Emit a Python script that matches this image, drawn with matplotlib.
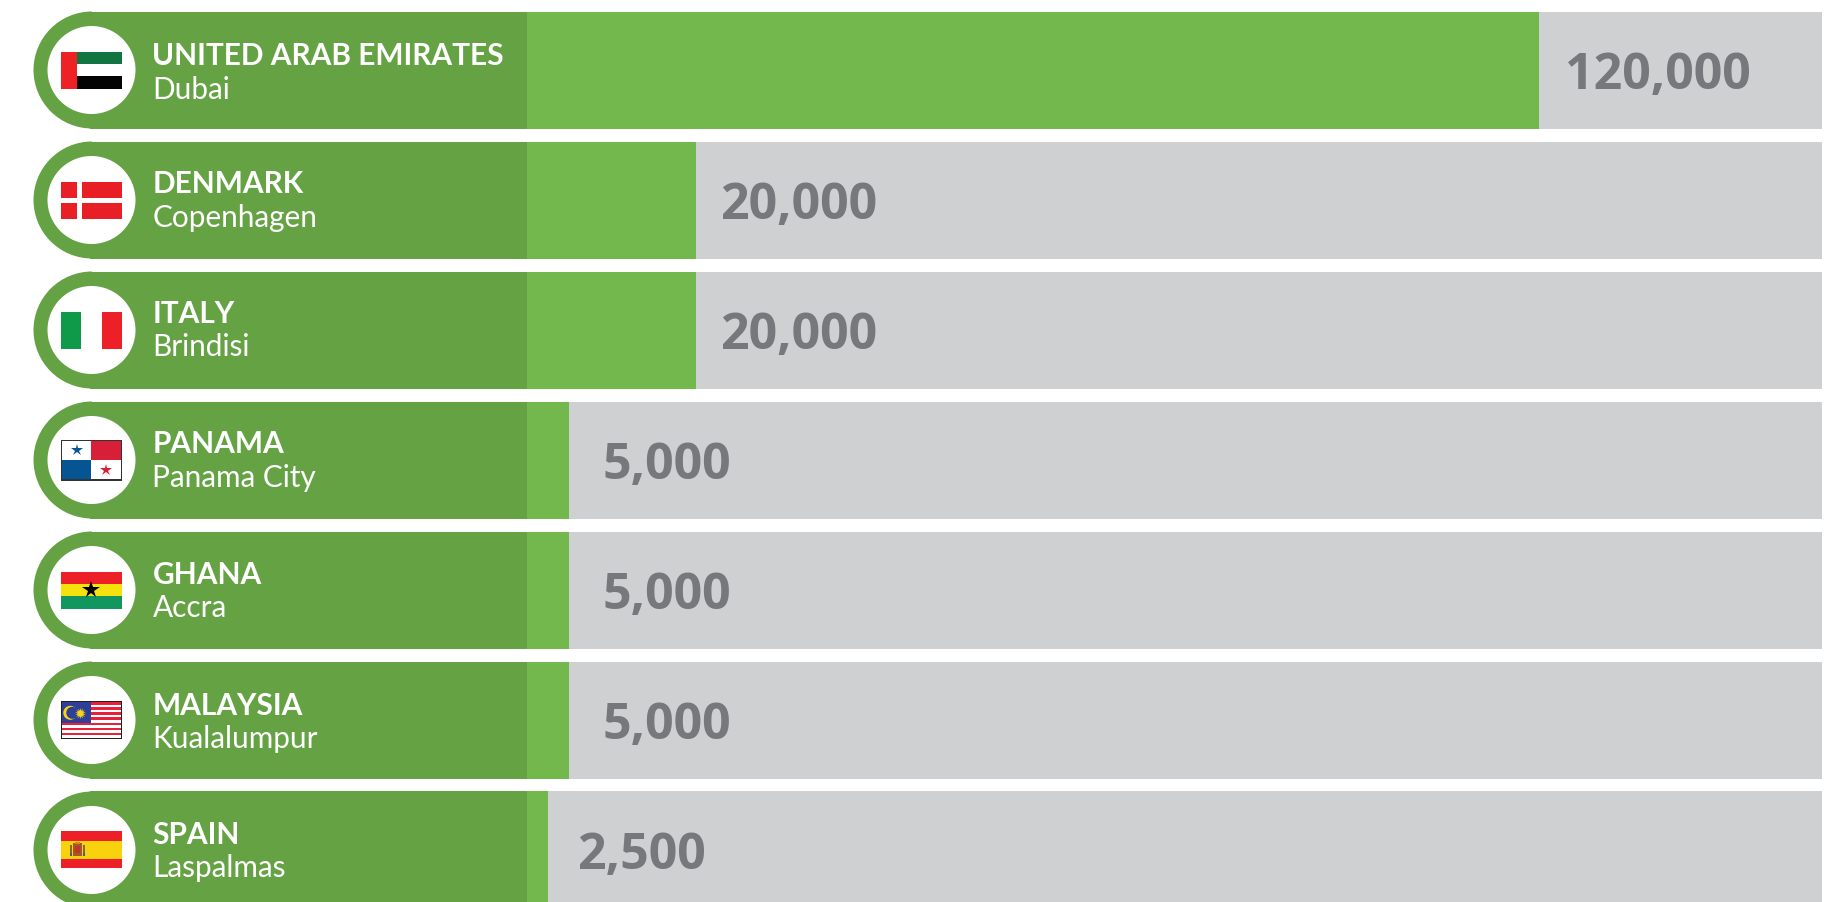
import matplotlib
matplotlib.use('Agg')
import matplotlib.pyplot as plt
from matplotlib.patches import Circle, Rectangle, Wedge

countries = ['UNITED ARAB EMIRATES', 'DENMARK', 'ITALY', 'PANAMA', 'GHANA', 'MALAYSIA', 'SPAIN']
cities = ['Dubai', 'Copenhagen', 'Brindisi', 'Panama City', 'Accra', 'Kualalumpur', 'Laspalmas']
values = [120000, 20000, 20000, 5000, 5000, 5000, 2500]
track_max = 153600

# gaps and baselines differ a little from row to row in the original
value_gaps = [26, 24, 24, 33, 33, 33, 29]
country_base = [-6, -8, -8, -8, -7, -6, -7]
city_base = [28, 26, 25, 26, 26, 27, 26]

DARK = '#65a244'
LIGHT = '#72b84c'
GREY = '#cfd0d2'
TEXT = '#77787b'
W, H = 1826, 903
PITCH = 130
ROW_H = 117
TOP = 12.5
ZERO_X = 527
PX_PER_UNIT = 1012 / 120000

fig = plt.figure(figsize=(W / 100, H / 100), dpi=100, facecolor='white')

# bars on value scale
ax = fig.add_axes([0, 0, 1, 1])
ax.set_xlim(-ZERO_X / PX_PER_UNIT, (W - ZERO_X) / PX_PER_UNIT)
ax.set_ylim((H - TOP - ROW_H / 2) / PITCH, -(TOP + ROW_H / 2) / PITCH)
ax.axis('off')
rows = list(range(len(values)))
bar_h = ROW_H / PITCH
ax.barh(rows, [track_max] * len(rows), height=bar_h, color=GREY, linewidth=0)
ax.barh(rows, values, height=bar_h, color=LIGHT, linewidth=0)
for r, v, g in zip(rows, values, value_gaps):
    ax.annotate(f'{v:,}', (v, r), xytext=(g * 0.72, -13), textcoords='offset points',
                ha='left', va='baseline', color=TEXT, fontsize=36,
                fontweight='bold', family='Open Sans')

# pixel overlay for label panels and flags
px = fig.add_axes([0, 0, 1, 1])
px.set_xlim(0, W)
px.set_ylim(H, 0)
px.axis('off')
px.patch.set_alpha(0)

FX, FW, FH = 60.5, 61.5, 37
EDGE = 1.3


def rect(x, y, w, h, c, z=4):
    px.add_patch(Rectangle((x, y), w, h, fc=c, ec='none', zorder=z))


def star(x, y, c, s):
    px.plot([x], [y], marker='*', color=c, markersize=s, mew=0, zorder=9)


def flag_uae(y):
    rect(FX, y, 16, FH, '#ee2224')
    rect(FX + 16, y, FW - 16, FH / 3, '#127440')
    rect(FX + 16, y + 2 * FH / 3, FW - 16, FH / 3, '#040404')


def flag_denmark(y):
    rect(FX, y, FW, FH, '#e91f26')
    rect(FX + 16, y, 5, FH, 'white', 5)
    rect(FX, y + FH / 2 - 2.5, FW, 5, 'white', 5)


def flag_italy(y):
    rect(FX, y, FW / 3, FH, '#0f9a4a')
    rect(FX + 2 * FW / 3, y, FW / 3, FH, '#ee2027')


def flag_panama(y):
    y -= 2
    fh = 41
    rect(FX, y, FW, fh, '#333333')
    x, w, h = FX + EDGE, FW - 2 * EDGE, fh - 2 * EDGE
    t = y + EDGE
    rect(x, t, w / 2, h / 2, 'white', 5)
    rect(x + w / 2, t, w / 2, h / 2, '#d71f37', 5)
    rect(x, t + h / 2, w / 2, h / 2, '#055493', 5)
    rect(x + w / 2, t + h / 2, w / 2, h / 2, 'white', 5)
    star(x + w / 4, t + h / 4, '#055493', 9)
    star(x + 3 * w / 4, t + 3 * h / 4, '#d71f37', 9)


def flag_ghana(y):
    rect(FX, y, FW, FH / 3, '#ee2027')
    rect(FX, y + FH / 3, FW, FH / 3, '#f5e20c')
    rect(FX, y + 2 * FH / 3, FW, FH / 3, '#12965f')
    star(FX + FW / 2, y + FH / 2, 'black', 13)


def flag_malaysia(y):
    y -= 0.5
    fh = 38
    rect(FX, y, FW, fh, '#222222')
    x, w, h = FX + EDGE, FW - 2 * EDGE, fh - 2 * EDGE
    t = y + EDGE
    for i in range(14):
        rect(x, t + i * h / 14, w, h / 14, '#e8203a' if i % 2 == 0 else 'white', 5)
    rect(x, t, w / 2, 8 * h / 14, '#2e3f98', 6)
    cx, cy = x + 8.5, t + 10.5
    px.add_patch(Circle((cx, cy), 7, fc='#f7d417', ec='none', zorder=7))
    px.add_patch(Circle((cx + 2, cy), 6, fc='#2e3f98', ec='none', zorder=8))
    px.plot([cx + 9.5], [cy], marker=(14, 1, 0), color='#f7d417', markersize=8, mew=0, zorder=9)


def flag_spain(y):
    rect(FX, y, FW, FH, '#ee2027')
    rect(FX, y + FH / 4, FW, FH / 2, '#f9d20e', 5)
    cx, cy = FX + 16.5, y + FH / 2
    rect(cx - 4.5, cy - 6.5, 9, 13, '#a8552a', 6)
    rect(cx - 2.5, cy - 7.5, 5, 2, '#c8901f', 7)
    rect(cx - 2.5, cy - 3.5, 5, 7, '#b83a2b', 7)
    rect(cx - 7.5, cy - 5, 2, 11, '#7f6a3a', 6)
    rect(cx + 5.5, cy - 5, 2, 11, '#7f6a3a', 6)
    rect(cx - 7.5, cy + 3, 2, 3, '#3a5f9a', 7)
    rect(cx + 5.5, cy + 3, 2, 3, '#3a5f9a', 7)


flags = [flag_uae, flag_denmark, flag_italy, flag_panama, flag_ghana, flag_malaysia, flag_spain]

for i in rows:
    top = TOP + i * PITCH
    cy = top + ROW_H / 2
    r = ROW_H / 2
    cx = 33.5 + r
    px.add_patch(Wedge((cx, cy), r, 90, 270, fc=DARK, ec='none', zorder=2))
    rect(cx - 2, top, ZERO_X - cx + 2, ROW_H, DARK, 2)
    px.add_patch(Circle((cx - 0.5, cy), 44, fc='white', ec='none', zorder=3))
    flags[i](cy - FH / 2)
    px.text(152.5, cy + country_base[i], countries[i], color='white', fontsize=21.5, fontweight='bold',
            family='Lato', va='baseline', ha='left', zorder=10)
    px.text(152.5, cy + city_base[i], cities[i], color='white', fontsize=21.4,
            family='Lato', va='baseline', ha='left', zorder=10)

fig.savefig('out.png', dpi=100, facecolor='white')
